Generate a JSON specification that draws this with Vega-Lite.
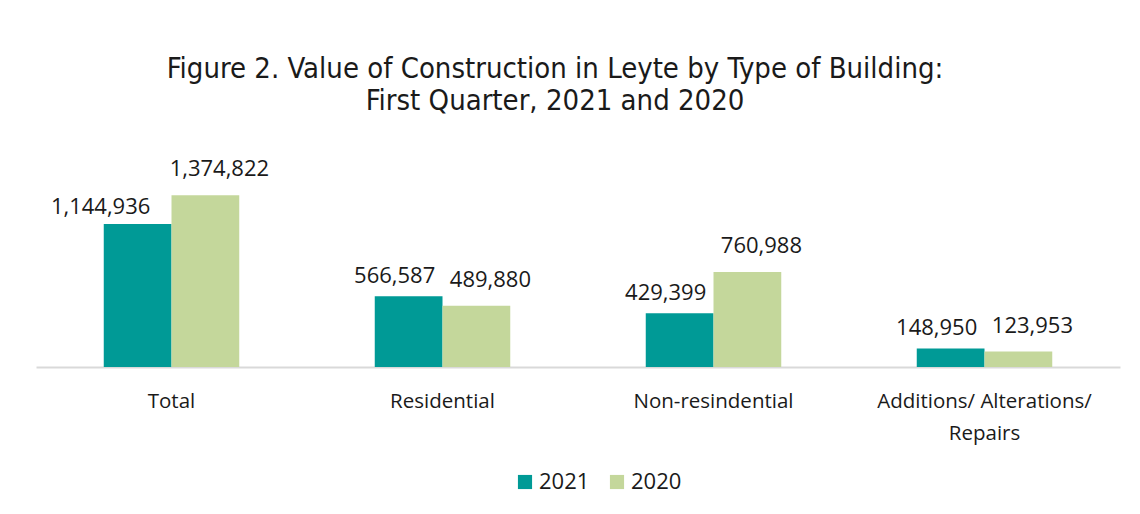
{
  "$schema": "https://vega.github.io/schema/vega-lite/v6.json",
  "autosize": {"type": "none"},
  "width": 1084,
  "height": 200,
  "padding": {"left": 36, "top": 167, "right": 20, "bottom": 147},
  "background": "white",
  "title": {
    "text": ["Figure 2. Value of Construction in Leyte by Type of Building:", "First Quarter, 2021 and 2020"],
    "font": "'DejaVu Sans Condensed', 'Roboto Condensed', Roboto",
    "fontSize": 29,
    "fontWeight": "normal",
    "color": "#1a1a1a",
    "lineHeight": 32,
    "anchor": "middle",
    "frame": "group",
    "dx": -23,
    "offset": 42
  },
  "data": {
    "values": [
      {"type": "Total", "year": "2021", "value": 1144936},
      {"type": "Total", "year": "2020", "value": 1374822},
      {"type": "Residential", "year": "2021", "value": 566587},
      {"type": "Residential", "year": "2020", "value": 489880},
      {"type": "Non-resindential", "year": "2021", "value": 429399},
      {"type": "Non-resindential", "year": "2020", "value": 760988},
      {"type": "Additions/ Alterations/ Repairs", "year": "2021", "value": 148950},
      {"type": "Additions/ Alterations/ Repairs", "year": "2020", "value": 123953}
    ]
  },
  "encoding": {
    "x": {
      "field": "type", "type": "nominal", "sort": null,
      "scale": {"paddingInner": 0.5, "paddingOuter": 0.25},
      "axis": {
        "title": null, "ticks": false, "grid": false,
        "labelAngle": 0, "labelFont": "Open Sans", "labelFontSize": 20.5,
        "labelColor": "#1a1a1a", "labelPadding": 24, "labelLineHeight": 32, "labelLimit": 400,
        "domainColor": "#d9d9d9", "domainWidth": 2,
        "labelExpr": "datum.value == 'Additions/ Alterations/ Repairs' ? ['Additions/ Alterations/', 'Repairs'] : datum.value"
      }
    },
    "xOffset": {"field": "year", "type": "nominal", "sort": ["2021", "2020"]},
    "y": {"field": "value", "type": "quantitative", "scale": {"domain": [0, 1601000], "nice": false}, "axis": null}
  },
  "layer": [
    {
      "mark": {"type": "bar"},
      "encoding": {
        "color": {
          "field": "year", "type": "nominal", "sort": ["2021", "2020"],
          "scale": {"domain": ["2021", "2020"], "range": ["#009a96", "#c4d79b"]},
          "legend": {
            "title": null, "orient": "none", "direction": "horizontal",
            "legendX": 478, "legendY": 304,
            "symbolType": "square", "symbolSize": 200, "symbolStrokeWidth": 0,
            "labelFont": "Open Sans", "labelFontSize": 22, "labelColor": "#1a1a1a",
            "labelOffset": 3, "columnPadding": 16
          }
        }
      }
    },
    {
      "transform": [{"filter": "datum.year == '2021' && datum.type != 'Total'"}],
      "mark": {"type": "text", "baseline": "bottom", "dy": -8, "dx": -14, "font": "Open Sans", "fontSize": 22, "color": "#1a1a1a"},
      "encoding": {"text": {"field": "value", "type": "quantitative", "format": ","}}
    },
    {
      "transform": [{"filter": "datum.year == '2021' && datum.type == 'Total'"}],
      "mark": {"type": "text", "baseline": "bottom", "dy": -5, "dx": -37, "font": "Open Sans", "fontSize": 22, "color": "#1a1a1a"},
      "encoding": {"text": {"field": "value", "type": "quantitative", "format": ","}}
    },
    {
      "transform": [{"filter": "datum.year == '2020'"}],
      "mark": {"type": "text", "baseline": "bottom", "dy": -14, "dx": 14, "font": "Open Sans", "fontSize": 22, "color": "#1a1a1a"},
      "encoding": {"text": {"field": "value", "type": "quantitative", "format": ","}}
    }
  ],
  "config": {
    "view": {"stroke": null}
  }
}
